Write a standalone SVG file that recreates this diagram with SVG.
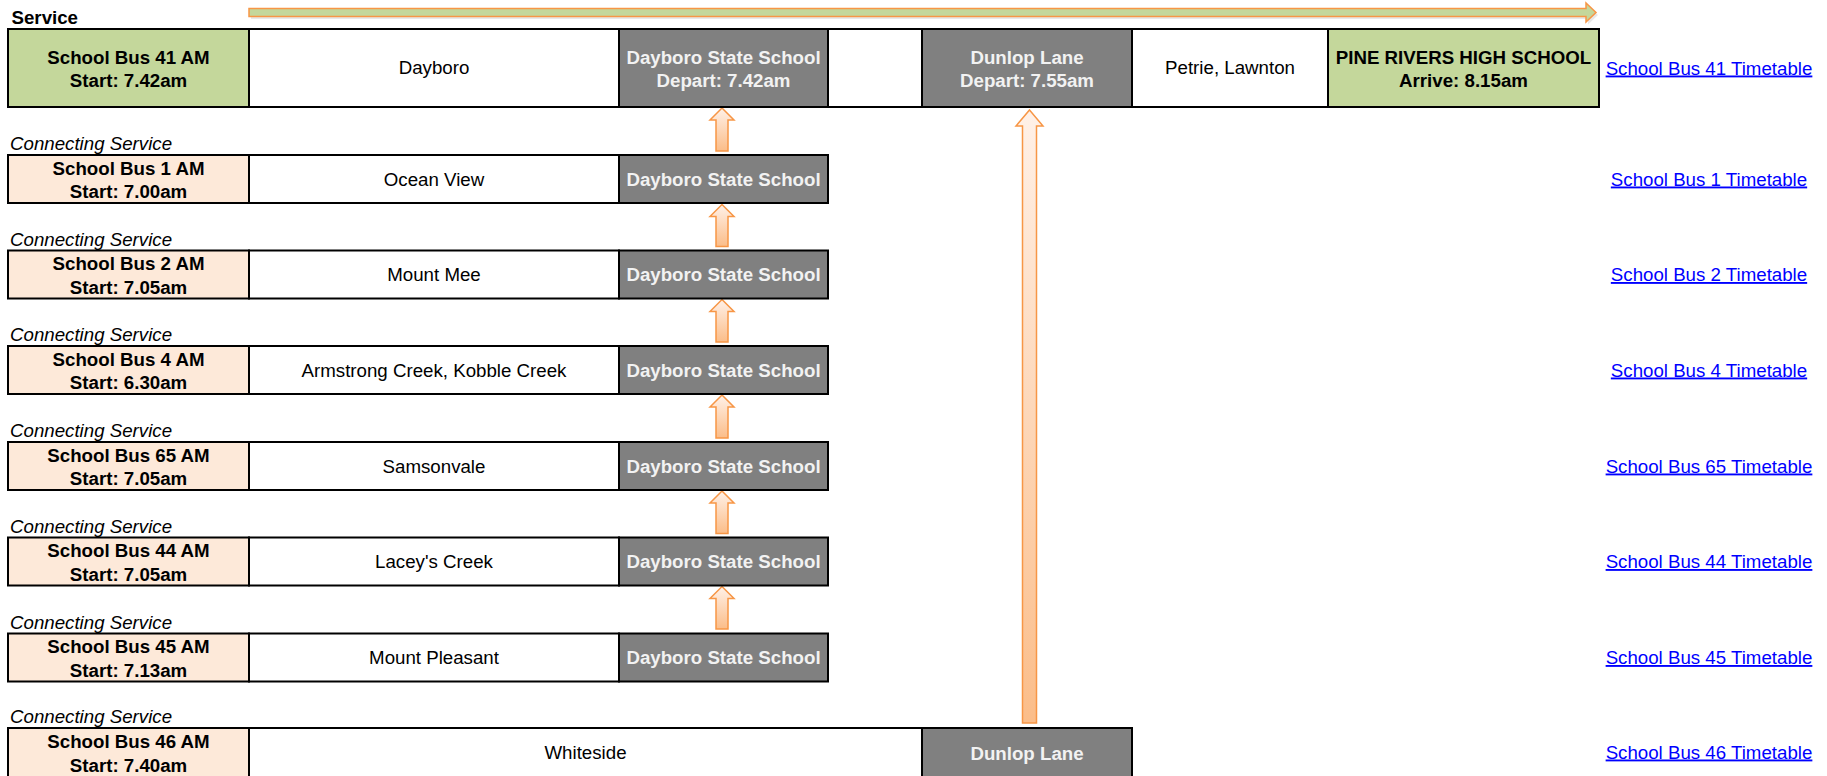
<svg xmlns="http://www.w3.org/2000/svg" width="1827" height="776" viewBox="0 0 1827 776">
<style>
text{font-family:"Liberation Sans",Arial,sans-serif;font-size:18.7px;fill:#000}
.b{font-weight:bold}
.w{fill:#f2f2f2;font-weight:bold}
.it{font-style:italic}
.c{text-anchor:middle}
.lnk{fill:#0000ff;text-anchor:middle;text-decoration:underline}
.cell{stroke:#000;stroke-width:2}
.green{fill:#c4d79b}
.peach{fill:#fde9d9}
.grey{fill:#808080}
.wh{fill:#fff}
.arr{fill:url(#og);stroke:#f79646;stroke-width:1.5;stroke-linejoin:miter}
</style>
<defs>
<linearGradient id="og" x1="0" y1="0" x2="0" y2="1">
<stop offset="0" stop-color="#fff1e8"/>
<stop offset="1" stop-color="#fbbd89"/>
</linearGradient>
</defs>
<rect width="1827" height="776" fill="#fff"/>

<g id="header">
<text class="b" x="11.5" y="24">Service</text>
</g>

<g id="connectors">
<polygon points="251,11 1588,11 1588,5.5 1598,15 1588,24.5 1588,19 251,19" fill="#d9d9d9" opacity="0.6"/>
<polygon points="249,8.5 1586,8.5 1586,3 1596,12.5 1586,22 1586,16.5 249,16.5" fill="#c4d79b" stroke="#f79646" stroke-width="1.5"/>
<polygon class="arr" points="722,108 734,120 728,120 728,151 716,151 716,120 710,120"/>
<polygon class="arr" points="722,204.5 734,216.5 728,216.5 728,246.5 716,246.5 716,216.5 710,216.5"/>
<polygon class="arr" points="722,299.5 734,311.5 728,311.5 728,342 716,342 716,311.5 710,311.5"/>
<polygon class="arr" points="722,395 734,407 728,407 728,438 716,438 716,407 710,407"/>
<polygon class="arr" points="722,491 734,503 728,503 728,533.5 716,533.5 716,503 710,503"/>
<polygon class="arr" points="722,586.5 734,598.5 728,598.5 728,629 716,629 716,598.5 710,598.5"/>
<polygon class="arr" points="1029.5,110 1043,126 1036.5,126 1036.5,723 1022.5,723 1022.5,126 1016,126"/>
</g>

<g id="row-bus41">
<g id="bus41-start"><rect class="cell green" x="8" y="29" width="241" height="78"/>
<text class="b c" x="128.5" y="63.5">School Bus 41 AM</text><text class="b c" x="128.5" y="87">Start: 7.42am</text></g>
<g id="bus41-dayboro"><rect class="cell wh" x="249" y="29" width="370" height="78"/>
<text class="c" x="434" y="74">Dayboro</text></g>
<g id="bus41-dss"><rect class="cell grey" x="619" y="29" width="209" height="78"/>
<text class="w c" x="723.5" y="63.5">Dayboro State School</text><text class="w c" x="723.5" y="87">Depart: 7.42am</text></g>
<g id="bus41-gap"><rect class="cell wh" x="828" y="29" width="94" height="78"/></g>
<g id="bus41-dunlop"><rect class="cell grey" x="922" y="29" width="210" height="78"/>
<text class="w c" x="1027" y="63.5">Dunlop Lane</text><text class="w c" x="1027" y="87">Depart: 7.55am</text></g>
<g id="bus41-petrie"><rect class="cell wh" x="1132" y="29" width="196" height="78"/>
<text class="c" x="1230" y="74">Petrie, Lawnton</text></g>
<g id="bus41-prhs"><rect class="cell green" x="1328" y="29" width="271" height="78"/>
<text class="b c" x="1463.5" y="63.5">PINE RIVERS HIGH SCHOOL</text><text class="b c" x="1463.5" y="87">Arrive: 8.15am</text></g>
<text class="lnk" x="1709" y="74.5">School Bus 41 Timetable</text>
</g>

<g id="row-bus1">
<text class="it" x="10" y="150">Connecting Service</text>
<g id="bus1-start"><rect class="cell peach" x="8" y="155" width="241" height="48"/>
<text class="b c" x="128.5" y="174.5">School Bus 1 AM</text><text class="b c" x="128.5" y="198">Start: 7.00am</text></g>
<g id="bus1-area"><rect class="cell wh" x="249" y="155" width="370" height="48"/>
<text class="c" x="434" y="185.5">Ocean View</text></g>
<g id="bus1-dss"><rect class="cell grey" x="619" y="155" width="209" height="48"/>
<text class="w c" x="723.5" y="185.5">Dayboro State School</text></g>
<text class="lnk" x="1709" y="185.5">School Bus 1 Timetable</text>
</g>

<g id="row-bus2">
<text class="it" x="10" y="245.5">Connecting Service</text>
<g id="bus2-start"><rect class="cell peach" x="8" y="250.5" width="241" height="48"/>
<text class="b c" x="128.5" y="270">School Bus 2 AM</text><text class="b c" x="128.5" y="293.5">Start: 7.05am</text></g>
<g id="bus2-area"><rect class="cell wh" x="249" y="250.5" width="370" height="48"/>
<text class="c" x="434" y="281">Mount Mee</text></g>
<g id="bus2-dss"><rect class="cell grey" x="619" y="250.5" width="209" height="48"/>
<text class="w c" x="723.5" y="281">Dayboro State School</text></g>
<text class="lnk" x="1709" y="281">School Bus 2 Timetable</text>
</g>

<g id="row-bus4">
<text class="it" x="10" y="341">Connecting Service</text>
<g id="bus4-start"><rect class="cell peach" x="8" y="346" width="241" height="48"/>
<text class="b c" x="128.5" y="365.5">School Bus 4 AM</text><text class="b c" x="128.5" y="389">Start: 6.30am</text></g>
<g id="bus4-area"><rect class="cell wh" x="249" y="346" width="370" height="48"/>
<text class="c" x="434" y="376.5">Armstrong Creek, Kobble Creek</text></g>
<g id="bus4-dss"><rect class="cell grey" x="619" y="346" width="209" height="48"/>
<text class="w c" x="723.5" y="376.5">Dayboro State School</text></g>
<text class="lnk" x="1709" y="376.5">School Bus 4 Timetable</text>
</g>

<g id="row-bus65">
<text class="it" x="10" y="437">Connecting Service</text>
<g id="bus65-start"><rect class="cell peach" x="8" y="442" width="241" height="48"/>
<text class="b c" x="128.5" y="461.5">School Bus 65 AM</text><text class="b c" x="128.5" y="485">Start: 7.05am</text></g>
<g id="bus65-area"><rect class="cell wh" x="249" y="442" width="370" height="48"/>
<text class="c" x="434" y="472.5">Samsonvale</text></g>
<g id="bus65-dss"><rect class="cell grey" x="619" y="442" width="209" height="48"/>
<text class="w c" x="723.5" y="472.5">Dayboro State School</text></g>
<text class="lnk" x="1709" y="472.5">School Bus 65 Timetable</text>
</g>

<g id="row-bus44">
<text class="it" x="10" y="532.5">Connecting Service</text>
<g id="bus44-start"><rect class="cell peach" x="8" y="537.5" width="241" height="48"/>
<text class="b c" x="128.5" y="557">School Bus 44 AM</text><text class="b c" x="128.5" y="580.5">Start: 7.05am</text></g>
<g id="bus44-area"><rect class="cell wh" x="249" y="537.5" width="370" height="48"/>
<text class="c" x="434" y="568">Lacey's Creek</text></g>
<g id="bus44-dss"><rect class="cell grey" x="619" y="537.5" width="209" height="48"/>
<text class="w c" x="723.5" y="568">Dayboro State School</text></g>
<text class="lnk" x="1709" y="568">School Bus 44 Timetable</text>
</g>

<g id="row-bus45">
<text class="it" x="10" y="628.5">Connecting Service</text>
<g id="bus45-start"><rect class="cell peach" x="8" y="633.5" width="241" height="48"/>
<text class="b c" x="128.5" y="653">School Bus 45 AM</text><text class="b c" x="128.5" y="676.5">Start: 7.13am</text></g>
<g id="bus45-area"><rect class="cell wh" x="249" y="633.5" width="370" height="48"/>
<text class="c" x="434" y="664">Mount Pleasant</text></g>
<g id="bus45-dss"><rect class="cell grey" x="619" y="633.5" width="209" height="48"/>
<text class="w c" x="723.5" y="664">Dayboro State School</text></g>
<text class="lnk" x="1709" y="664">School Bus 45 Timetable</text>
</g>

<g id="row-bus46">
<text class="it" x="10" y="723">Connecting Service</text>
<g id="bus46-start"><rect class="cell peach" x="8" y="728" width="241" height="62"/>
<text class="b c" x="128.5" y="748">School Bus 46 AM</text><text class="b c" x="128.5" y="772">Start: 7.40am</text></g>
<g id="bus46-area"><rect class="cell wh" x="249" y="728" width="673" height="62"/>
<text class="c" x="585.5" y="758.5">Whiteside</text></g>
<g id="bus46-dunlop"><rect class="cell grey" x="922" y="728" width="210" height="62"/>
<text class="w c" x="1027" y="759.5">Dunlop Lane</text></g>
<text class="lnk" x="1709" y="758.5">School Bus 46 Timetable</text>
</g>
</svg>
